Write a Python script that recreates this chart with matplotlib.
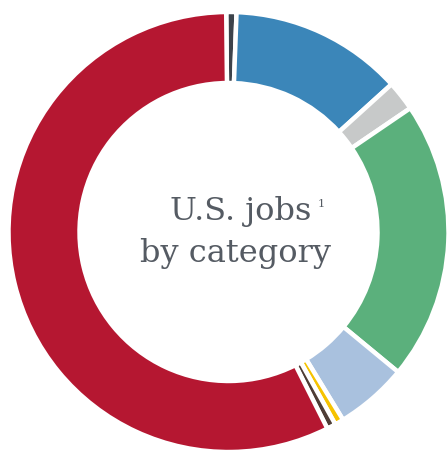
import matplotlib
matplotlib.use("Agg")
import matplotlib.pyplot as plt

# share of U.S. jobs by category (percent), clockwise from 12 o'clock
categories = ["top", "blue", "gray", "green", "lightblue", "yellow", "brown", "red"]
shares = [0.75, 12.7, 2.2, 20.5, 5.3, 0.65, 0.65, 57.25]
colors = ["#3d434b", "#3b86b9", "#c7c9c9", "#5bb07c", "#a9c1de", "#f6c300", "#4e3d36", "#b51731"]

title_line1 = "U.S. jobs"
title_sup = "1"
title_line2 = "by category"
text_color = "#555b63"

fig = plt.figure(figsize=(4.48, 4.54), dpi=100)
ax = fig.add_axes([0, 0, 1, 1])

# work in pixel units, ring centre at (228.5, 232) from top-left
cx, cy = 228.5, 232
r_out = 220
ring = 71

ax.pie(shares, colors=colors, radius=r_out, startangle=90.6, counterclock=False,
       wedgeprops=dict(width=ring, edgecolor="white", linewidth=3.2))

ax.set_xlim(-cx, 448 - cx)
ax.set_ylim(-(454 - cy), cy)
ax.set_aspect("equal")
ax.axis("off")

ax.text(-58.5, 232 - 220, title_line1, ha="left", va="baseline", fontsize=23,
        family="DejaVu Serif", color=text_color)
ax.text(89, 232 - 207, title_sup, ha="left", va="baseline", fontsize=8,
        family="DejaVu Serif", color=text_color)
ax.text(6.5, 232 - 262, title_line2, ha="center", va="baseline", fontsize=23,
        family="DejaVu Serif", color=text_color)

fig.savefig("out.png", dpi=100)
